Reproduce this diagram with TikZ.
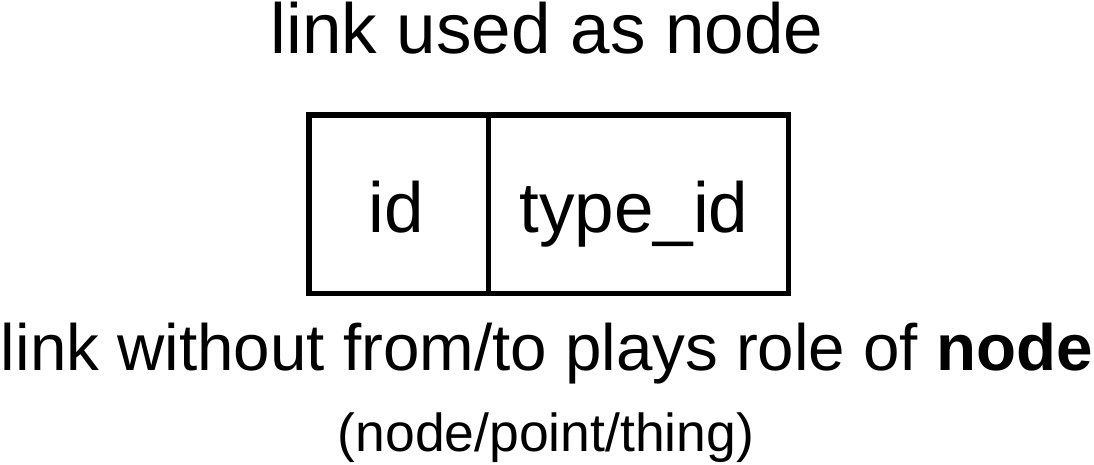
\documentclass[tikz,border=0pt]{standalone}
\usepackage{fontspec}
\setmainfont{Liberation Sans}
\begin{document}
\begin{tikzpicture}[x=1pt,y=-1pt,
    frame/.style={draw, line width=5.5pt},
    big/.style={font=\fontsize{71}{80}\selectfont},
    mid/.style={font=\fontsize{65.5}{72}\selectfont},
    small/.style={font=\fontsize{53.5}{60}\selectfont}]
					\useasboundingbox (0,0) rectangle (1094,465);
					\node[big,anchor=base] at (547,54)  (t0) {link used as node};
					% record box
					\draw[frame] (309,115) rectangle (788.5,293.5);
					\draw[frame] (488.7,115) -- (488.7,293.5);
					\node[big,anchor=base] at (396,232) (c0) {id};
					\node[big,anchor=base] at (634,232) (c1) {type\_id};
					\node[mid,anchor=base] at (547,370) (t1) {link without from/to plays role of \textbf{node}};
					\node[small,anchor=base] at (546,451) (t2) {(node/point/thing)};
				\end{tikzpicture}
\end{document}
